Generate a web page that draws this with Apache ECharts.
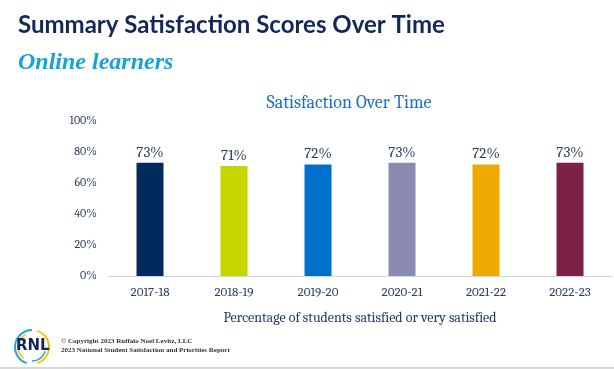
<!DOCTYPE html>
<html><head><meta charset="utf-8">
<script src="https://cdn.jsdelivr.net/npm/echarts@6/dist/echarts.min.js"></script>
<style>html,body{margin:0;padding:0;background:#fff}#c{width:614px;height:369px}</style>
</head><body><div id="c"></div>
<script>
const categories = ['2017-18','2018-19','2019-20','2020-21','2021-22','2022-23'];
const values = [73, 71, 72, 73, 72, 73];
const barColors = ['#002b5c','#c5d600','#0070cd','#8a8bb3','#efaa00','#7e2146'];
const yTicks = [0, 20, 40, 60, 80, 100];

const chart = echarts.init(document.getElementById('c'));
const serif = 'Cambria, "DejaVu Serif", "Liberation Serif", serif';
chart.setOption({
  animation: false,
  title: [
    {text: 'Summary Satisfaction Scores Over Time', left: 13, top: 8,
     textStyle: {fontFamily: 'Lato', fontWeight: 'bold', fontSize: 24, color: '#14275a'}},
    {text: 'Online learners', left: 13, top: 46,
     textStyle: {fontFamily: '"Liberation Serif"', fontStyle: 'italic', fontWeight: 'bold', fontSize: 24, color: '#17a2dc'}},
    {text: 'Satisfaction Over Time', left: 344, top: 89, textAlign: 'center',
     textStyle: {fontFamily: serif, fontWeight: 'normal', fontSize: 18, color: '#1f6fc5'}}
  ],
  grid: {left: 108, right: 2, top: 121, bottom: 93},
  xAxis: {
    type: 'category', data: categories,
    name: 'Percentage of students satisfied or very satisfied',
    nameLocation: 'middle', nameGap: 35,
    nameTextStyle: {fontFamily: serif, fontSize: 14, color: '#1f3864'},
    axisLine: {lineStyle: {color: '#c9d7ec', width: 1}},
    axisTick: {show: false},
    axisLabel: {fontFamily: serif, fontSize: 13, color: '#2e3f5f', margin: 10}
  },
  yAxis: {
    type: 'value', min: 0, max: 100, interval: 20,
    splitLine: {show: false},
    axisLine: {show: false}, axisTick: {show: false},
    axisLabel: {fontFamily: serif, fontSize: 12, color: '#2e3f5f', margin: 11,
      formatter: v => yTicks.includes(v) ? v + '%' : ''}
  },
  series: [{
    type: 'bar', barWidth: 27,
    data: values.map((v, i) => ({value: v, itemStyle: {color: barColors[i]}})),
    label: {show: true, position: 'top', distance: 3, formatter: '{c}%',
      fontFamily: serif, fontSize: 15, color: '#2b3d5e'}
  }],
  graphic: [
    {type: 'arc', shape: {cx: 32, cy: 347, r: 17, startAngle: Math.PI*0.6, endAngle: Math.PI*1.5},
     style: {stroke: '#2aa0dc', lineWidth: 2, fill: null}},
    {type: 'arc', shape: {cx: 32, cy: 347, r: 14, startAngle: Math.PI*0.7, endAngle: Math.PI*1.35},
     style: {stroke: '#f2c500', lineWidth: 1.5, fill: null}},
    {type: 'arc', shape: {cx: 32, cy: 347, r: 17, startAngle: Math.PI*1.6, endAngle: Math.PI*2.4},
     style: {stroke: '#f2c500', lineWidth: 2, fill: null}},
    {type: 'arc', shape: {cx: 32, cy: 347, r: 14, startAngle: Math.PI*0.1, endAngle: Math.PI*0.5},
     style: {stroke: '#2aa0dc', lineWidth: 1.5, fill: null}},
    {type: 'text', left: 16, top: 339, style: {text: 'RNL', font: 'bold 15px "DejaVu Sans", sans-serif', fill: '#14275a'}},
    {type: 'text', left: 61, top: 338, style: {text: '© Copyright 2023 Ruffalo Noel Levitz, LLC', font: 'bold 7px "Liberation Serif", serif', fill: '#333'}},
    {type: 'text', left: 61, top: 347, style: {text: '2023 National Student Satisfaction and Priorities Report', font: 'bold 7px "Liberation Serif", serif', fill: '#333'}},
    {type: 'rect', shape: {x: 0, y: 367, width: 614, height: 2}, style: {fill: '#d9d9d9'}}
  ]
});
</script></body></html>
